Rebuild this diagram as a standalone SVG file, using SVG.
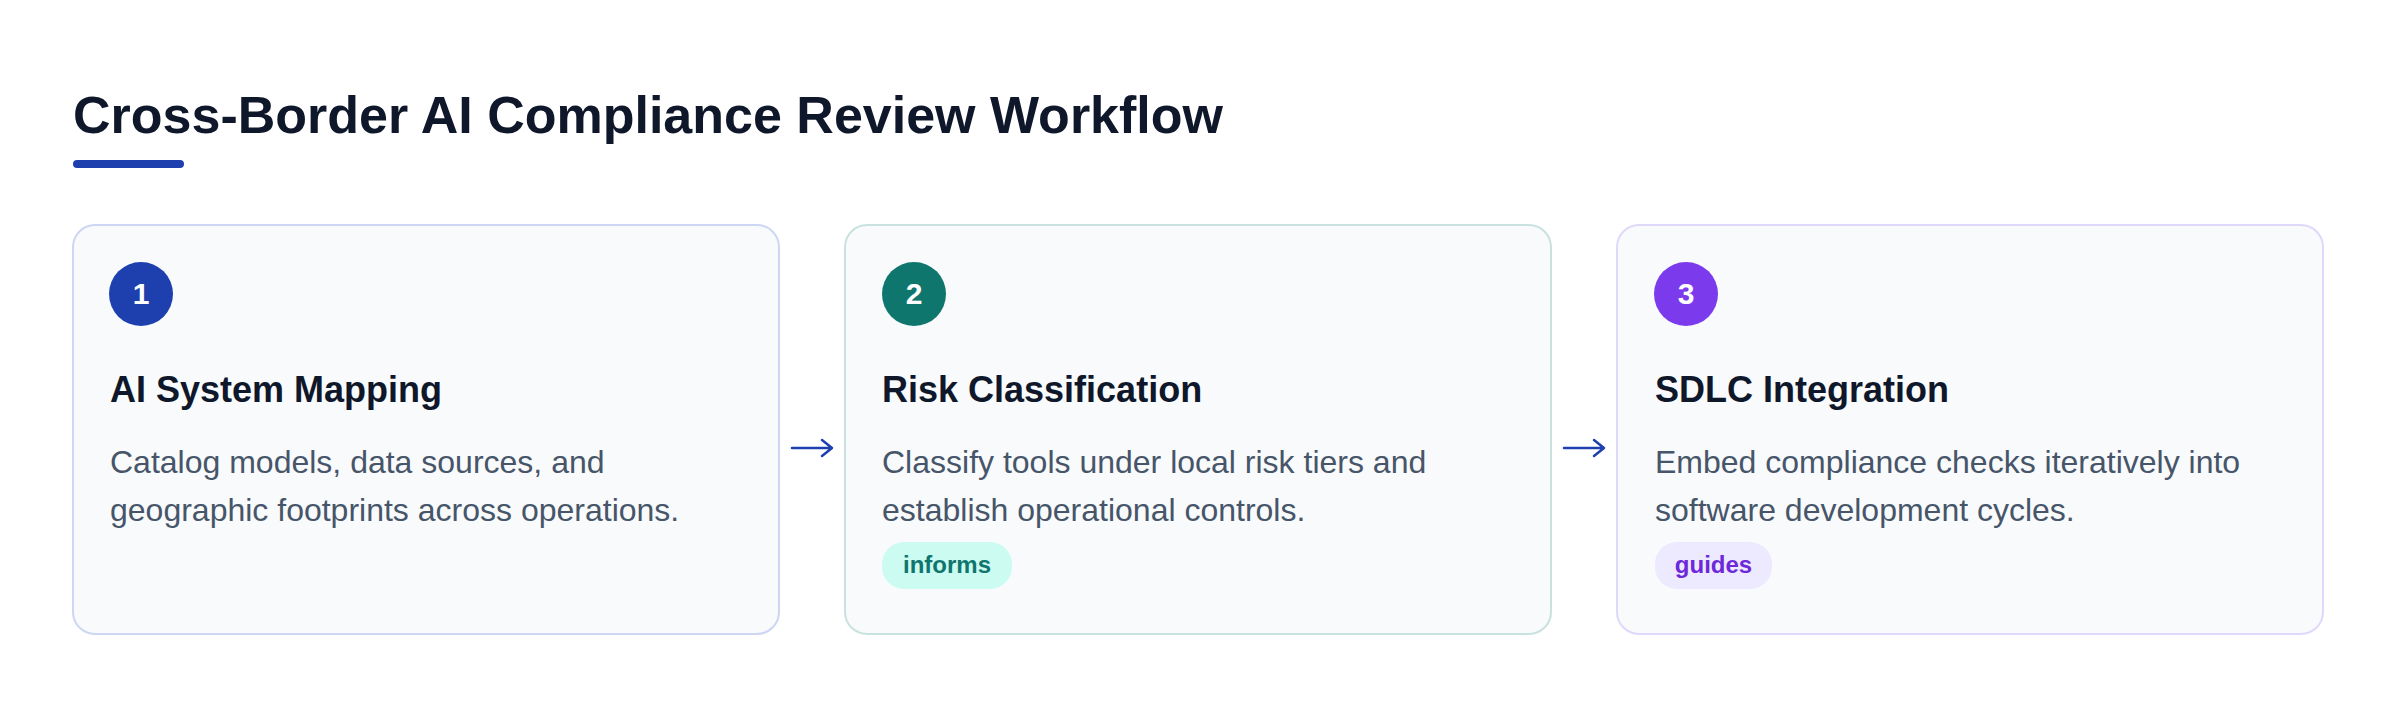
<svg xmlns="http://www.w3.org/2000/svg" width="2400" height="708" viewBox="0 0 2400 708">
  <style>
    .title { font-family: "Liberation Sans", Arial, sans-serif; font-weight: 700; font-size: 52px; fill: #0f172a; }
    .card { fill: #f8fafc; stroke-width: 2; }
    .num { font-family: "Liberation Sans", Arial, sans-serif; font-weight: 700; font-size: 30px; fill: #ffffff; text-anchor: middle; }
    .head { font-family: "Liberation Sans", Arial, sans-serif; font-weight: 700; font-size: 36px; fill: #0f172a; }
    .desc { font-family: "Liberation Sans", Arial, sans-serif; font-size: 32px; fill: #475569; }
    .pill { font-family: "Liberation Sans", Arial, sans-serif; font-weight: 700; font-size: 24px; text-anchor: middle; }
    .conn { fill: none; stroke: #1e40af; stroke-width: 2.5; stroke-linecap: round; stroke-linejoin: round; }
  </style>
  <rect width="2400" height="708" fill="#ffffff"/>
  <g id="header">
    <text class="title" x="73" y="133">Cross-Border AI Compliance Review Workflow</text>
    <rect x="73" y="160" width="111" height="8" rx="4" fill="#1e40af"/>
  </g>
  <g id="node-1">
    <rect class="card" x="73" y="225" width="706" height="409" rx="22" stroke="#cdd6f2"/>
    <circle cx="141" cy="294" r="32" fill="#1e40af"/>
    <text class="num" x="141" y="304">1</text>
    <text class="head" x="110" y="402">AI System Mapping</text>
    <text class="desc" x="110" y="473">Catalog models, data sources, and</text>
    <text class="desc" x="110" y="521">geographic footprints across operations.</text>
  </g>
  <g id="node-2">
    <rect class="card" x="845" y="225" width="706" height="409" rx="22" stroke="#c9e2e0"/>
    <circle cx="914" cy="294" r="32" fill="#0f766e"/>
    <text class="num" x="914" y="304">2</text>
    <text class="head" x="882" y="402">Risk Classification</text>
    <text class="desc" x="882" y="473">Classify tools under local risk tiers and</text>
    <text class="desc" x="882" y="521">establish operational controls.</text>
    <rect x="882" y="542" width="130" height="47" rx="22" fill="#ccfbf1"/>
    <text class="pill" x="947" y="573" fill="#0f766e">informs</text>
  </g>
  <g id="node-3">
    <rect class="card" x="1617" y="225" width="706" height="409" rx="22" stroke="#e0d8fb"/>
    <circle cx="1686" cy="294" r="32" fill="#7c3aed"/>
    <text class="num" x="1686" y="304">3</text>
    <text class="head" x="1655" y="402">SDLC Integration</text>
    <text class="desc" x="1655" y="473">Embed compliance checks iteratively into</text>
    <text class="desc" x="1655" y="521">software development cycles.</text>
    <rect x="1655" y="542" width="117" height="47" rx="22" fill="#ede9fe"/>
    <text class="pill" x="1713.5" y="573" fill="#6d28d9">guides</text>
  </g>
  <g id="connectors">
    <path class="conn" d="M792 448 H831 M822 440 L832 448 L822 456"/>
    <path class="conn" d="M1564 448 H1603 M1594 440 L1604 448 L1594 456"/>
  </g>
</svg>
